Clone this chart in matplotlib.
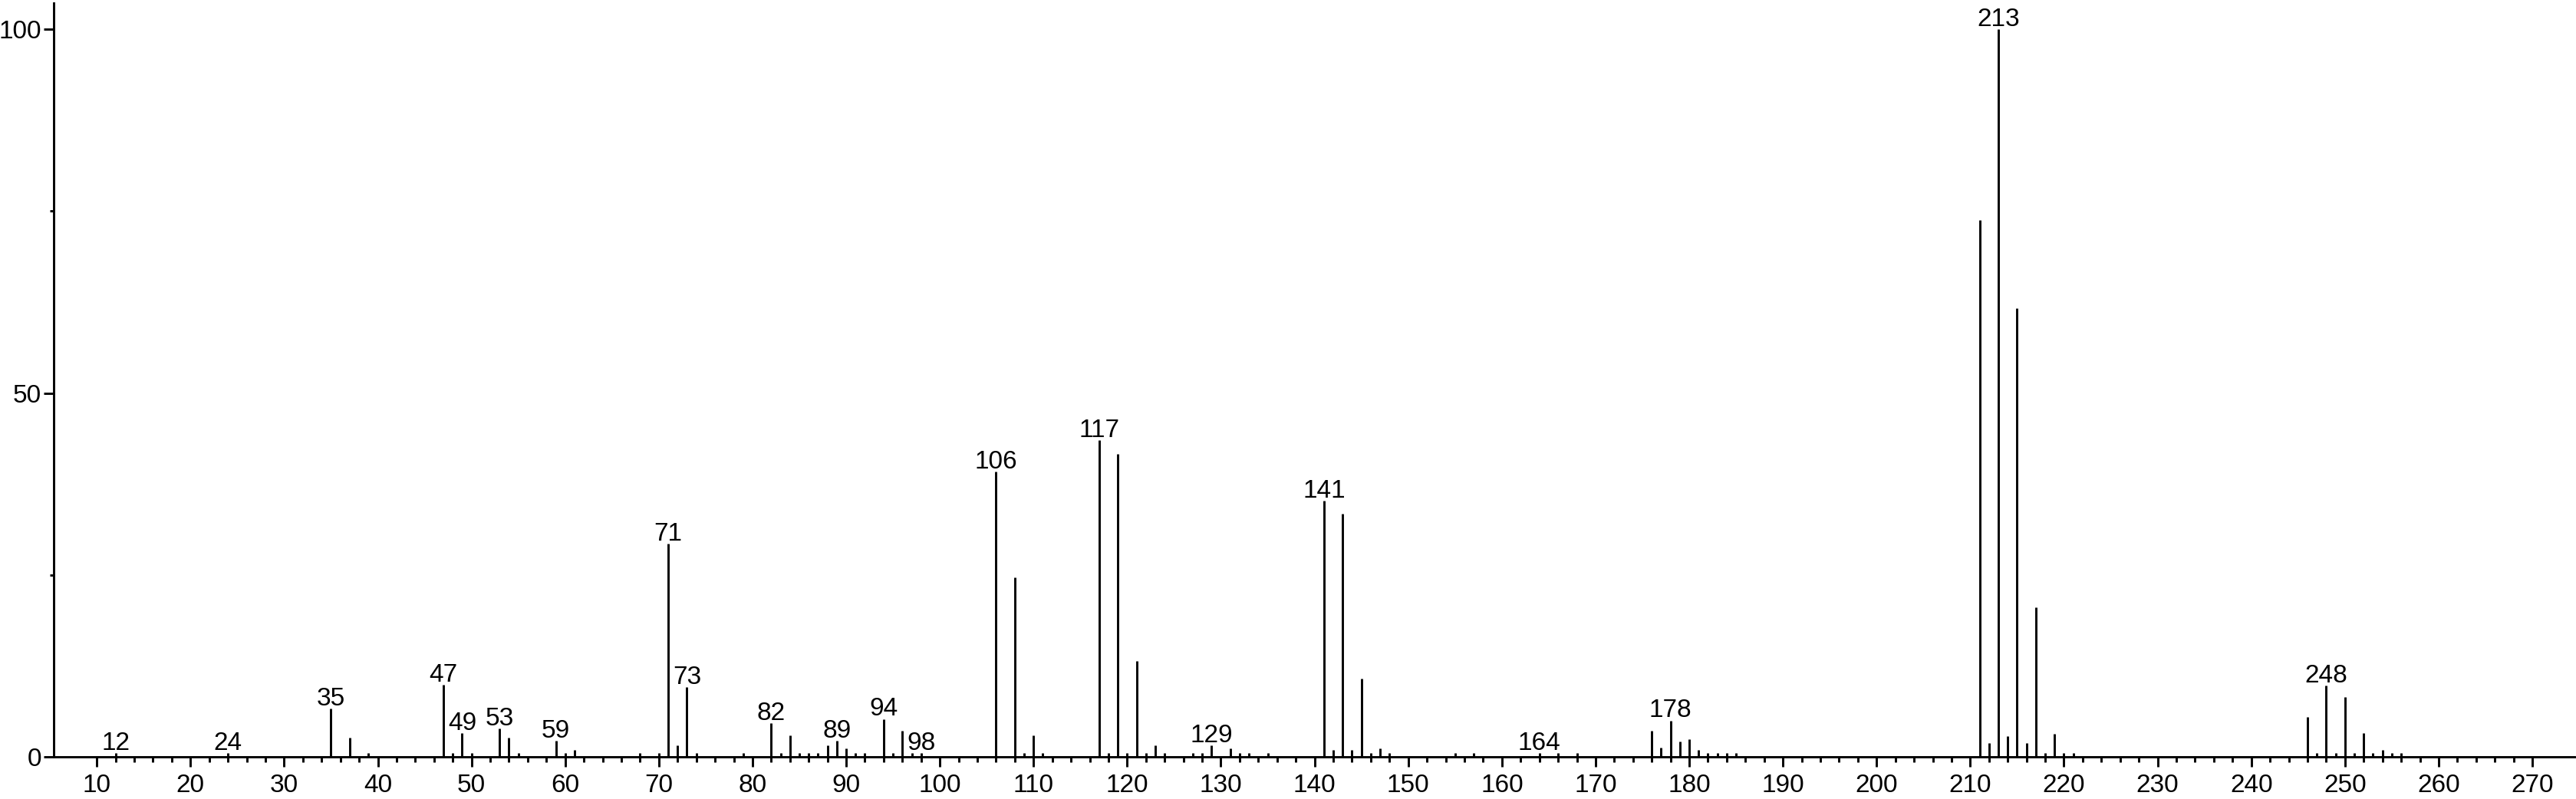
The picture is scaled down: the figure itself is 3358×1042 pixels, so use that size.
import matplotlib
matplotlib.use("Agg")
import matplotlib.pyplot as plt
import numpy as np

plt.rcParams['font.family'] = ['Liberation Sans', 'DejaVu Sans']

# m/z values and relative intensities of the spectrum
mz = [12, 24, 35, 37, 39, 47, 48, 49, 50, 53, 54, 55, 59, 60, 61, 68, 70,
      71, 72, 73, 74, 79, 82, 83, 84, 85, 86, 87, 88, 89, 90, 91, 92, 94,
      95, 96, 97, 98, 106, 108, 109, 110, 111, 117, 118, 119, 120, 121, 122,
      123, 124, 127, 128, 129, 131, 132, 133, 135, 141, 142, 143, 144, 145,
      146, 147, 148, 155, 157, 164, 166, 168, 176, 177, 178, 179, 180, 181,
      182, 183, 184, 185, 211, 212, 213, 214, 215, 216, 217, 218, 219, 220,
      221, 246, 247, 248, 249, 250, 251, 252, 253, 254, 255, 256]
intensity = [0.5, 0.5, 6.6, 2.6, 0.5, 9.9, 0.5, 3.3, 0.5, 3.9, 2.6, 0.5, 2.2,
             0.5, 0.9, 0.5, 0.5, 29.3, 1.6, 9.6, 0.5, 0.5, 4.6, 0.5, 2.9, 0.5,
             0.5, 0.5, 1.6, 2.2, 1.2, 0.5, 0.5, 5.2, 0.5, 3.6, 0.5, 0.5, 39.2,
             24.7, 0.5, 2.9, 0.5, 43.5, 0.5, 41.6, 0.5, 13.2, 0.5, 1.6, 0.5,
             0.5, 0.5, 1.6, 1.2, 0.5, 0.5, 0.5, 35.2, 0.9, 33.4, 0.9, 10.8,
             0.5, 1.2, 0.5, 0.5, 0.5, 0.5, 0.5, 0.5, 3.6, 1.3, 5.0, 2.1, 2.4,
             1.0, 0.5, 0.5, 0.5, 0.5, 73.8, 1.9, 100, 2.8, 61.7, 1.9, 20.5,
             0.5, 3.2, 0.5, 0.5, 5.5, 0.5, 9.8, 0.5, 8.2, 0.5, 3.3, 0.5, 0.9,
             0.5, 0.5]

# peaks that carry an m/z label
labelled = [12, 24, 35, 47, 49, 53, 59, 71, 73, 82, 89, 94, 98, 106, 117,
            129, 141, 164, 178, 213, 248]

fig = plt.figure(figsize=(33.58, 10.42), dpi=100)
ax = fig.add_axes([70 / 3358, 55 / 1042, 3286 / 3358, 983 / 1042])

ax.vlines(mz, 0, intensity, color='black', linewidth=2.1)

lookup = dict(zip(mz, intensity))
for m in labelled:
    ax.annotate(str(m), (m, lookup[m]), xytext=(0, 3), textcoords='offset points',
                ha='center', va='baseline', fontsize=24, annotation_clip=False)

ax.set_xlim(5.4, 274.5)
ax.set_ylim(0, 103.6)

ax.set_xticks(np.arange(10, 271, 10))
ax.set_xticks(np.arange(10, 271, 2), minor=True)
ax.set_yticks([0, 50, 100])
ax.set_yticks([25, 75], minor=True)

for side in ['top', 'right']:
    ax.spines[side].set_visible(False)
for side in ['left', 'bottom']:
    ax.spines[side].set_linewidth(2.1)

ax.tick_params(axis='x', which='major', direction='out', length=9.5, width=2.1,
               pad=6, labelsize=24)
ax.tick_params(axis='x', which='minor', direction='out', length=5, width=2.1)
ax.tick_params(axis='y', which='major', direction='out', length=9.5, width=2.1,
               pad=2, labelsize=24)
ax.tick_params(axis='y', which='minor', direction='out', length=3.6, width=2.1)

fig.savefig('out.png', dpi=100)
